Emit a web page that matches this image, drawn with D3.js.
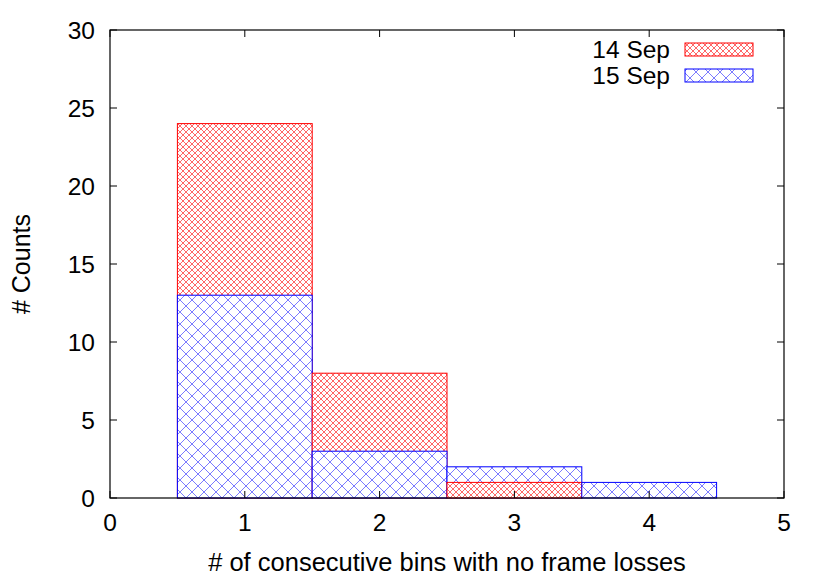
<!DOCTYPE html>
<html><head><meta charset="utf-8">
<script src="https://cdn.jsdelivr.net/npm/d3@7"></script>
<style>body{margin:0;background:#fff}svg{display:block}text{font-family:"Liberation Sans",Arial,sans-serif;fill:#000}</style>
</head><body>
<script>
const categories = [1, 2, 3, 4];
const sep14 = [24, 8, 1, 0];
const sep15 = [13, 3, 2, 1];
const seriesNames = ["14 Sep", "15 Sep"];
const xTicks = [0, 1, 2, 3, 4, 5];
const yTicks = [0, 5, 10, 15, 20, 25, 30];

const W = 830, H = 581;
const m = {left: 110, right: 46, top: 30, bottom: 83};
const svg = d3.select("body").append("svg").attr("width", W).attr("height", H);
const x = d3.scaleLinear().domain([0, 5]).range([m.left, W - m.right]);
const y = d3.scaleLinear().domain([0, 30]).range([H - m.bottom, m.top]);

const defs = svg.append("defs");
function hatch(id, color, p, op) {
  const pat = defs.append("pattern").attr("id", id).attr("patternUnits", "userSpaceOnUse")
    .attr("width", p).attr("height", p);
  pat.append("rect").attr("width", p).attr("height", p).attr("fill", "#fff");
  pat.append("path").attr("d", `M0,0L${p},${p}M${p},0L0,${p}M${-p/2},${p/2}L${p/2},${p*1.5}M${p/2},${-p/2}L${p*1.5},${p/2}M${p/2},${p*1.5}L${p*1.5},${p/2}M${-p/2},${p/2}L${p/2},${-p/2}`)
    .attr("stroke", color).attr("stroke-width", 0.8).attr("stroke-opacity", op).attr("fill", "none");
}
hatch("hr", "#ff0000", 6, 0.75);
hatch("hb", "#0000ff", 12, 0.65);

const series = [
  {name: seriesNames[0], vals: sep14, fill: "url(#hr)", stroke: "#ff0000"},
  {name: seriesNames[1], vals: sep15, fill: "url(#hb)", stroke: "#0000ff"}
];

const gBars = svg.append("g");
categories.forEach((c, i) => {
  const items = series.map(s => ({v: s.vals[i], s})).filter(d => d.v > 0).sort((a, b) => b.v - a.v);
  items.forEach(d => {
    gBars.append("rect")
      .attr("x", x(c - 0.5)).attr("width", x(c + 0.5) - x(c - 0.5))
      .attr("y", y(d.v)).attr("height", y(0) - y(d.v))
      .attr("fill", d.s.fill).attr("stroke", d.s.stroke).attr("stroke-width", 1);
  });
});

// ticks (inward, mirrored)
const tl = 7;
const gAx = svg.append("g").attr("stroke", "#000").attr("stroke-width", 1);
xTicks.forEach(t => {
  gAx.append("line").attr("x1", x(t)).attr("x2", x(t)).attr("y1", y(0)).attr("y2", y(0) - tl);
  gAx.append("line").attr("x1", x(t)).attr("x2", x(t)).attr("y1", y(30)).attr("y2", y(30) + tl);
});
yTicks.forEach(t => {
  gAx.append("line").attr("x1", x(0)).attr("x2", x(0) + tl).attr("y1", y(t)).attr("y2", y(t));
  gAx.append("line").attr("x1", x(5)).attr("x2", x(5) - tl).attr("y1", y(t)).attr("y2", y(t));
});
svg.append("rect").attr("x", x(0)).attr("y", y(30)).attr("width", x(5) - x(0)).attr("height", y(0) - y(30))
  .attr("fill", "none").attr("stroke", "#000").attr("stroke-width", 1.2);

const fs = 24.5;
svg.append("g").selectAll("text").data(xTicks).join("text")
  .attr("x", d => x(d)).attr("y", 531).attr("text-anchor", "middle").attr("font-size", fs).text(d => d);
svg.append("g").selectAll("text").data(yTicks).join("text")
  .attr("x", 95).attr("y", d => y(d) + 9).attr("text-anchor", "end").attr("font-size", fs).text(d => d);

svg.append("text").attr("x", (x(0) + x(5)) / 2).attr("y", 571).attr("text-anchor", "middle")
  .attr("font-size", 25.5).text("# of consecutive bins with no frame losses");
svg.append("text").attr("transform", `translate(30,${(y(0) + y(30)) / 2}) rotate(-90)`)
  .attr("text-anchor", "middle").attr("font-size", 25).text("# Counts");

// legend
series.forEach((s, i) => {
  const ly = 49.5 + i * 26;
  svg.append("text").attr("x", 670).attr("y", ly + 8).attr("text-anchor", "end").attr("font-size", fs).text(s.name);
  svg.append("rect").attr("x", 685).attr("y", ly - 6.5).attr("width", 68).attr("height", 13)
    .attr("fill", s.fill).attr("stroke", s.stroke).attr("stroke-width", 1);
});
</script>
</body></html>
